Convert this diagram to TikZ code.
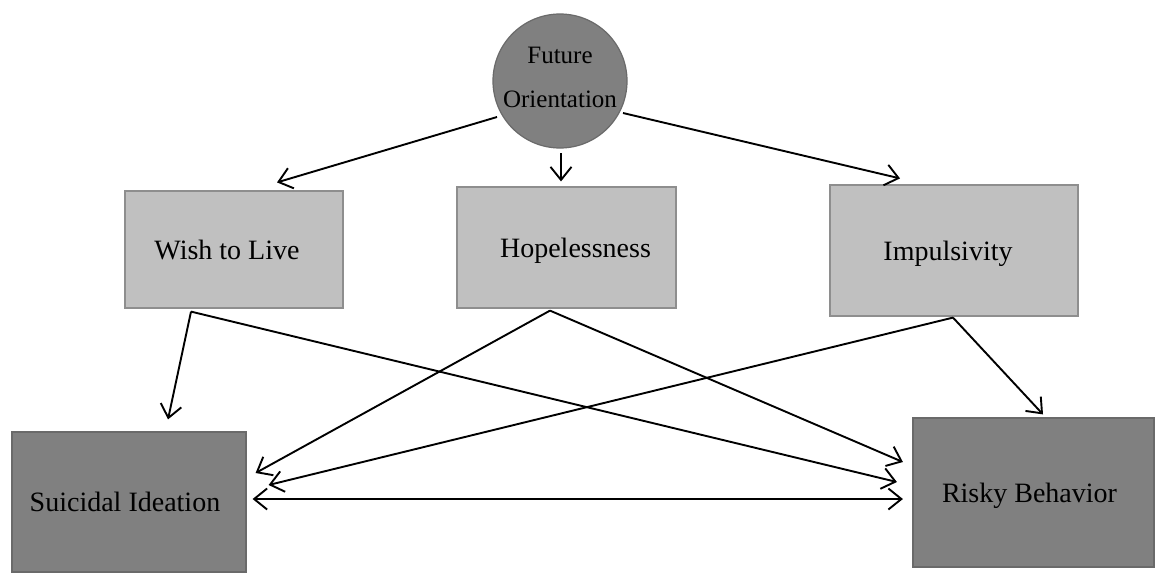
\documentclass[tikz,border=0pt]{standalone}
\usepackage{fontspec}
\setmainfont{Liberation Serif}
\usetikzlibrary{arrows.meta,calc}
\definecolor{lightbox}{HTML}{C0C0C0}
\definecolor{darkbox}{HTML}{808080}
\definecolor{lightline}{HTML}{8E8E8E}
\definecolor{darkline}{HTML}{6A6A6A}
\begin{document}
\begin{tikzpicture}[x=1pt,y=-1pt,
  lbox/.style={draw=lightline,line width=1.2pt,fill=lightbox,rectangle,inner sep=0pt,
    font=\fontsize{28}{33}\selectfont,text height=19pt,text depth=0pt},
  dbox/.style={draw=darkline,line width=1.2pt,fill=darkbox,rectangle,inner sep=0pt,
    font=\fontsize{28}{33}\selectfont,text height=19pt,text depth=0pt},
  fcirc/.style={draw=darkline,line width=1.2pt,fill=darkbox,circle,inner sep=0pt,
    minimum size=134pt,align=center,font=\fontsize{25}{44}\selectfont,text depth=8pt},
  conn/.style={line width=1.9pt,-{Straight Barb[length=13pt,width=21pt,line width=1.9pt]}},
  conn2/.style={line width=1.9pt,{Straight Barb[length=13pt,width=21pt,line width=1.9pt]}-{Straight Barb[length=13pt,width=21pt,line width=1.9pt]}}
]
\useasboundingbox (0,0) rectangle (1155,574);
\fill[white] (0,0) rectangle (1155,574);

\node[fcirc] (fo) at (560,81) {Future\\[0pt]Orientation};
\node[lbox,minimum width=218pt,minimum height=117pt] (wtl) at (234,249.5) {\hspace*{-14pt}Wish to Live};
\node[lbox,minimum width=219pt,minimum height=121pt] (hop) at (566.5,247.5) {\hspace*{18pt}Hopelessness};
\node[lbox,minimum width=248pt,minimum height=131pt] (imp) at (954,250.5) {\hspace*{-12pt}Impulsivity};
\node[dbox,minimum width=234pt,minimum height=140pt] (si) at (129,502) {\hspace*{-8pt}Suicidal Ideation};
\node[dbox,minimum width=241pt,minimum height=149pt] (rb) at (1033.5,492.5) {\hspace*{-8pt}Risky Behavior};

% from Future Orientation
\draw[conn] ($(fo.center)+(-63,36)$) -- ($(wtl.north)+(43,-8)$);
\draw[conn] ($(fo.center)+(1,72)$) -- ($(hop.north)+(-5.5,-5)$);
\draw[conn] ($(fo.center)+(63,32)$) -- ($(imp.north)+(-54,-6)$);

% from Wish to Live
\draw[conn] ($(wtl.south)+(-43,3)$) -- ($(si.north)+(39,-12)$);
\draw[conn] ($(wtl.south)+(-43,3)$) -- ($(rb.west)+(-15.5,-10.5)$);

% from Hopelessness
\draw[conn] ($(hop.south)+(-16.5,2)$) -- ($(si.east)+(9,-29)$);
\draw[conn] ($(hop.south)+(-16.5,2)$) -- ($(rb.west)+(-9.5,-30.5)$);

% from Impulsivity
\draw[conn] ($(imp.south)+(-1,1)$) -- ($(si.east)+(22,-17)$);
\draw[conn] ($(imp.south)+(-1,1)$) -- ($(rb.north)+(9.5,-3)$);

% double-headed
\draw[conn2] ($(si.east)+(6,-3)$) -- ($(rb.west)+(-9.5,6.5)$);
\end{tikzpicture}
\end{document}
